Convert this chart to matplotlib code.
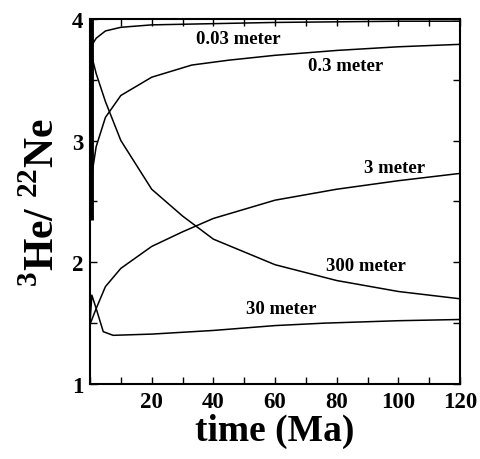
import matplotlib.pyplot as plt
from matplotlib.ticker import MultipleLocator

plt.rcParams['font.family'] = ['Liberation Serif', 'DejaVu Serif']
plt.rcParams['font.weight'] = 'bold'
plt.rcParams['mathtext.fontset'] = 'custom'
plt.rcParams['mathtext.rm'] = 'Liberation Serif'

# model curves: time (Ma) vs 3He/22Ne for each grain/depth size
t_003 = [0, 1, 2, 5, 10, 20, 40, 60, 80, 100, 120]
r_003 = [3.75, 3.80, 3.84, 3.90, 3.93, 3.95, 3.96, 3.97, 3.975, 3.98, 3.98]

t_03 = [0, 2, 5, 10, 20, 33, 45, 60, 80, 100, 120]
r_03 = [2.62, 2.95, 3.19, 3.37, 3.52, 3.62, 3.66, 3.70, 3.74, 3.77, 3.79]

t_3 = [0, 2, 5, 10, 20, 30, 40, 60, 80, 100, 120]
r_3 = [1.49, 1.62, 1.80, 1.95, 2.13, 2.25, 2.36, 2.51, 2.60, 2.67, 2.73]

t_30 = [0, 0.6, 2, 4.3, 7.5, 20, 40, 60, 76, 100, 120]
r_30 = [1.50, 1.73, 1.62, 1.43, 1.40, 1.41, 1.44, 1.48, 1.50, 1.52, 1.53]

t_300 = [0, 2, 5, 10, 20, 30, 40, 60, 80, 100, 120]
r_300 = [3.75, 3.55, 3.32, 3.00, 2.60, 2.38, 2.19, 1.98, 1.85, 1.76, 1.70]

# near-instant transient at the start of the runs
t_spike = [0.3, 0.3]
r_spike = [2.35, 4.0]

labels = ['0.03 meter', '0.3 meter', '3 meter', '30 meter', '300 meter']
label_x = [48, 83, 98.7, 62, 89.6]
label_y = [3.84, 3.62, 2.78, 1.62, 1.97]

fig = plt.figure(figsize=(4.8, 4.6), dpi=100)
ax = fig.add_axes([0.1875, 0.163, 0.771, 0.794])

for t, r in [(t_003, r_003), (t_03, r_03), (t_3, r_3), (t_30, r_30), (t_300, r_300)]:
    ax.plot(t, r, color='black', lw=1.1)
ax.plot(t_spike, r_spike, color='black', lw=3.5, solid_capstyle='butt')

for txt, x, y in zip(labels, label_x, label_y):
    ax.text(x, y, txt, ha='center', va='center', fontsize=13.5, fontweight='bold')

ax.set_xlim(0, 120)
ax.set_ylim(1, 4)
ax.xaxis.set_major_locator(MultipleLocator(20))
ax.xaxis.set_minor_locator(MultipleLocator(10))
ax.yaxis.set_major_locator(MultipleLocator(1))
ax.yaxis.set_minor_locator(MultipleLocator(0.5))
ax.set_xticks([20, 40, 60, 80, 100, 120])
ax.tick_params(which='both', direction='in', top=True, right=True, labelsize=16.5, pad=5)
ax.tick_params(which='major', length=5, width=1)
ax.tick_params(which='minor', length=5, width=1)
for lab in ax.get_xticklabels() + ax.get_yticklabels():
    lab.set_fontweight('bold')
for sp in ax.spines.values():
    sp.set_linewidth(1.5)

ax.set_xlabel('time (Ma)', fontsize=27, fontweight='bold', labelpad=1)
ax.set_ylabel(r'$^{\mathrm{3}}$He/ $^{\mathrm{22}}$Ne', fontsize=30, fontweight='bold', labelpad=6)

fig.savefig('out.png', dpi=100)
